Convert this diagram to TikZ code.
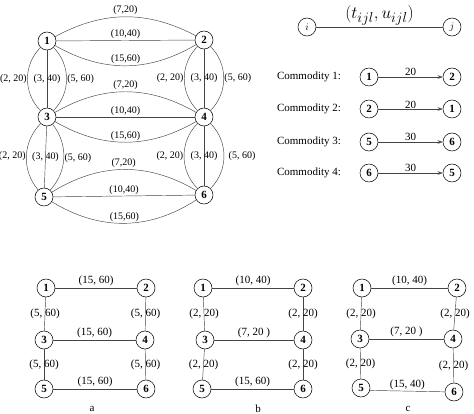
\documentclass[tikz,border=0pt]{standalone}
\usepackage{fontspec}
\setmainfont{Liberation Serif}
\usepackage{amsmath}
\usepackage{tikz}
\usetikzlibrary{arrows.meta}
\definecolor{edgegray}{HTML}{444444}

\begin{document}
\begin{tikzpicture}[x=1pt, y=-1pt,
  vtx/.style={circle, draw=black, line width=0.5pt, minimum size=18pt, inner sep=0pt, font=\fontsize{11}{13}\selectfont\bfseries},
  edge/.style={draw=edgegray, line width=0.45pt},
  lbl/.style={font=\fontsize{10}{12}\selectfont, inner sep=1.5pt},
  blbl/.style={font=\fontsize{11}{13}\selectfont, inner sep=1.5pt},
  txt/.style={font=\fontsize{11}{13}\selectfont},
  arrow/.style={-{Stealth[length=5pt, width=3.5pt]}, draw=edgegray, line width=0.45pt}
]
  \useasboundingbox (0,0) rectangle (474,414);

  % full network
  \node[vtx] (m1) at (47, 41) {1};
  \node[vtx] (m2) at (204, 40) {2};
  \node[vtx] (m3) at (47, 117) {3};
  \node[vtx] (m4) at (204, 117) {4};
  \node[vtx] (m5) at (44, 197) {5};
  \node[vtx] (m6) at (204, 195) {6};

  \draw[edge] (m1) to[bend left=28] node[lbl, above] {(7,20)} (m2);
  \draw[edge] (m1) -- node[lbl, above] {(10,40)} (m2);
  \draw[edge] (m1) to[bend right=30] node[lbl, above] {(15,60)} (m2);
  \draw[edge] (m3) to[bend left=30] node[lbl, above] {(7,20)} (m4);
  \draw[edge] (m3) -- node[lbl, above] {(10,40)} (m4);
  \draw[edge] (m3) to[bend right=30] node[lbl, above] {(15,60)} (m4);
  \draw[edge] (m5) to[bend left=31] node[lbl, above] {(7,20)} (m6);
  \draw[edge] (m5) -- node[lbl, above] {(10,40)} (m6);
  \draw[edge] (m5) to[bend right=32] node[lbl, above] {(15,60)} (m6);

  \draw[edge] (m1) to[bend right=45] node[lbl, left, inner sep=0.5pt] {(2, 20)} (m3);
  \draw[edge] (m1) -- node[lbl] {(3, 40)} (m3);
  \draw[edge] (m1) to[bend left=45] node[lbl, right, inner sep=0.5pt] {(5, 60)} (m3);
  \draw[edge] (m2) to[bend right=45] node[lbl, left, inner sep=0.5pt] {(2, 20)} (m4);
  \draw[edge] (m2) -- node[lbl] {(3, 40)} (m4);
  \draw[edge] (m2) to[bend left=45] node[lbl, right, inner sep=0.5pt] {(5, 60)} (m4);
  \draw[edge] (m3) to[bend right=42] node[lbl, left, inner sep=0.5pt] {(2, 20)} (m5);
  \draw[edge] (m3) -- node[lbl] {(3, 40)} (m5);
  \draw[edge] (m3) to[bend left=40] node[lbl, right, inner sep=0.5pt] {(5, 60)} (m5);
  \draw[edge] (m4) to[bend right=45] node[lbl, left, inner sep=0.5pt] {(2, 20)} (m6);
  \draw[edge] (m4) -- node[lbl] {(3, 40)} (m6);
  \draw[edge] (m4) to[bend left=45] node[lbl, right=3pt] {(5, 60)} (m6);

  % legend
  \node[vtx, font=\normalfont] (ni) at (307, 27) {$i$};
  \node[vtx, font=\normalfont] (nj) at (452, 27) {$j$};
  \draw[edge] (ni) -- node[above=1pt, font=\fontsize{19}{22}\selectfont, inner sep=0pt] {$(t_{ijl}, u_{ijl})$} (nj);

  % commodities
  \node[txt] (com1) at (309, 77) {Commodity 1:};
  \node[vtx] (k1s) at (369, 77) {1};
  \node[vtx] (k1t) at (452, 77) {2};
  \draw[arrow] (k1s) -- node[blbl, above] {20} (k1t);

  \node[txt] (com2) at (309, 109) {Commodity 2:};
  \node[vtx] (k2s) at (369, 109) {2};
  \node[vtx] (k2t) at (452, 109) {1};
  \draw[arrow] (k2s) -- node[blbl, above, inner sep=0pt] {20} (k2t);

  \node[txt] (com3) at (309, 142) {Commodity 3:};
  \node[vtx] (k3s) at (369, 142) {5};
  \node[vtx] (k3t) at (452, 142) {6};
  \draw[arrow] (k3s) -- node[blbl, above] {30} (k3t);

  \node[txt] (com4) at (309, 173) {Commodity 4:};
  \node[vtx] (k4s) at (369, 173) {6};
  \node[vtx] (k4t) at (452, 173) {5};
  \draw[arrow] (k4s) -- node[blbl, above] {30} (k4t);

  % solution a
  \node[vtx] (a1) at (46, 288) {1};
  \node[vtx] (a2) at (146, 288) {2};
  \node[vtx] (a3) at (44, 340) {3};
  \node[vtx] (a4) at (145, 340) {4};
  \node[vtx] (a5) at (44, 389) {5};
  \node[vtx] (a6) at (146, 389) {6};
  \draw[edge] (a1) -- node[blbl, above] {(15, 60)} (a2);
  \draw[edge] (a3) -- node[blbl, above] {(15, 60)} (a4);
  \draw[edge] (a5) -- node[blbl, above] {(15, 60)} (a6);
  \draw[edge] (a1) -- node[blbl] {(5, 60)} (a3);
  \draw[edge] (a3) -- node[blbl] {(5, 60)} (a5);
  \draw[edge] (a2) -- node[blbl] {(5, 60)} (a4);
  \draw[edge] (a4) -- node[blbl] {(5, 60)} (a6);
  \node[txt] (capa) at (92, 409) {a};

  % solution b
  \node[vtx] (b1) at (203, 288) {1};
  \node[vtx] (b2) at (303, 288) {2};
  \node[vtx] (b3) at (205, 340) {3};
  \node[vtx] (b4) at (303, 340) {4};
  \node[vtx] (b5) at (202, 389) {5};
  \node[vtx] (b6) at (303, 389) {6};
  \draw[edge] (b1) -- node[blbl, above] {(10, 40)} (b2);
  \draw[edge] (b3) -- node[blbl, above] {(7, 20 )} (b4);
  \draw[edge] (b5) -- node[blbl, above] {(15, 60)} (b6);
  \draw[edge] (b1) -- node[blbl] {(2, 20)} (b3);
  \draw[edge] (b3) -- node[blbl] {(2, 20)} (b5);
  \draw[edge] (b2) -- node[blbl] {(2, 20)} (b4);
  \draw[edge] (b4) -- node[blbl] {(2, 20)} (b6);
  \node[txt] (capb) at (258, 409) {b};

  % solution c
  \node[vtx] (c1) at (362, 288) {1};
  \node[vtx] (c2) at (457, 288) {2};
  \node[vtx] (c3) at (360, 339) {3};
  \node[vtx] (c4) at (453, 339) {4};
  \node[vtx] (c5) at (361, 388) {5};
  \node[vtx] (c6) at (454, 392) {6};
  \draw[edge] (c1) -- node[blbl, above] {(10, 40)} (c2);
  \draw[edge] (c3) -- node[blbl, above] {(7, 20 )} (c4);
  \draw[edge] (c5.-15) -- node[blbl, above] {(15, 40)} (c6);
  \draw[edge] (c1) -- node[blbl] {(2, 20)} (c3);
  \draw[edge] (c3) -- node[blbl] {(2, 20)} (c5);
  \draw[edge] (c2) -- node[blbl] {(2, 20)} (c4);
  \draw[edge] (c4) -- node[blbl] {(2, 20)} (c6);
  \node[txt] (capc) at (408, 409) {c};
\end{tikzpicture}
\end{document}
